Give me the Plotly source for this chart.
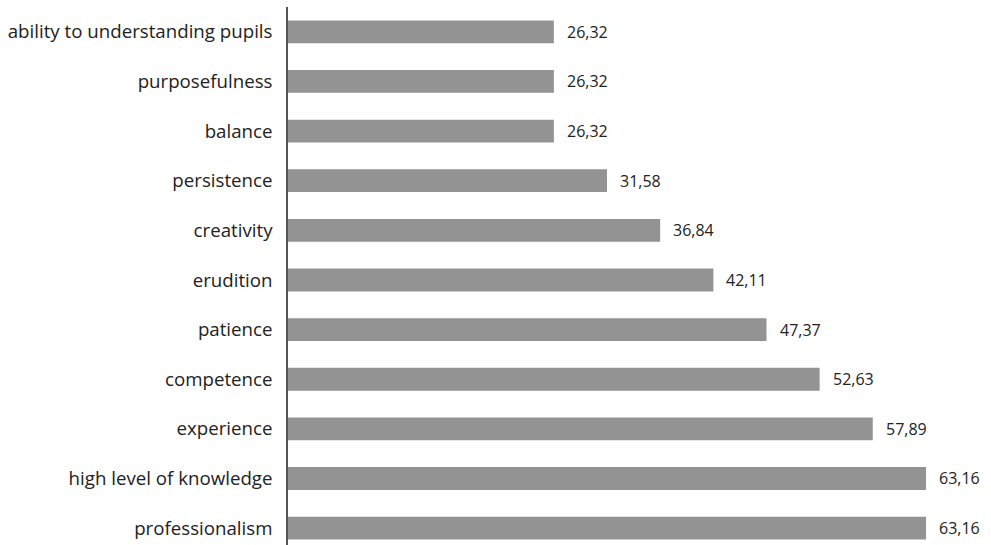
import plotly.graph_objects as go

categories = ["professionalism", "high level of knowledge", "experience", "competence",
              "patience", "erudition", "creativity", "persistence", "balance",
              "purposefulness", "ability to understanding pupils"]
values = [63.16, 63.16, 57.89, 52.63, 47.37, 42.11, 36.84, 31.58, 26.32, 26.32, 26.32]

fig = go.Figure(go.Bar(
    x=values, y=categories, orientation="h",
    marker=dict(color="#939393", line=dict(width=0)),
    width=0.46,
))

for v, c in zip(values, categories):
    fig.add_annotation(x=v, y=c, text=f"{v:.2f}".replace(".", ","), showarrow=False,
                       xanchor="left", xshift=11,
                       font=dict(family="Open Sans", size=16, color="#222222"))

fig.update_layout(
    width=991, height=545,
    margin=dict(l=288, r=6, t=7, b=0),
    plot_bgcolor="white", paper_bgcolor="white",
    showlegend=False,
    font=dict(family="Open Sans", size=18.7, color="#222222"),
    xaxis=dict(range=[0, 69], showgrid=False, showticklabels=False, zeroline=False,
               showline=False, ticks=""),
    yaxis=dict(range=[-0.34, 10.5], showgrid=False, showline=True, linecolor="#555555",
               linewidth=1.5, ticks="", ticklabelstandoff=10,
               tickfont=dict(family="Open Sans", size=18.7, color="#222222"),
               categoryorder="array", categoryarray=categories),
)

fig.write_html("out.html")
